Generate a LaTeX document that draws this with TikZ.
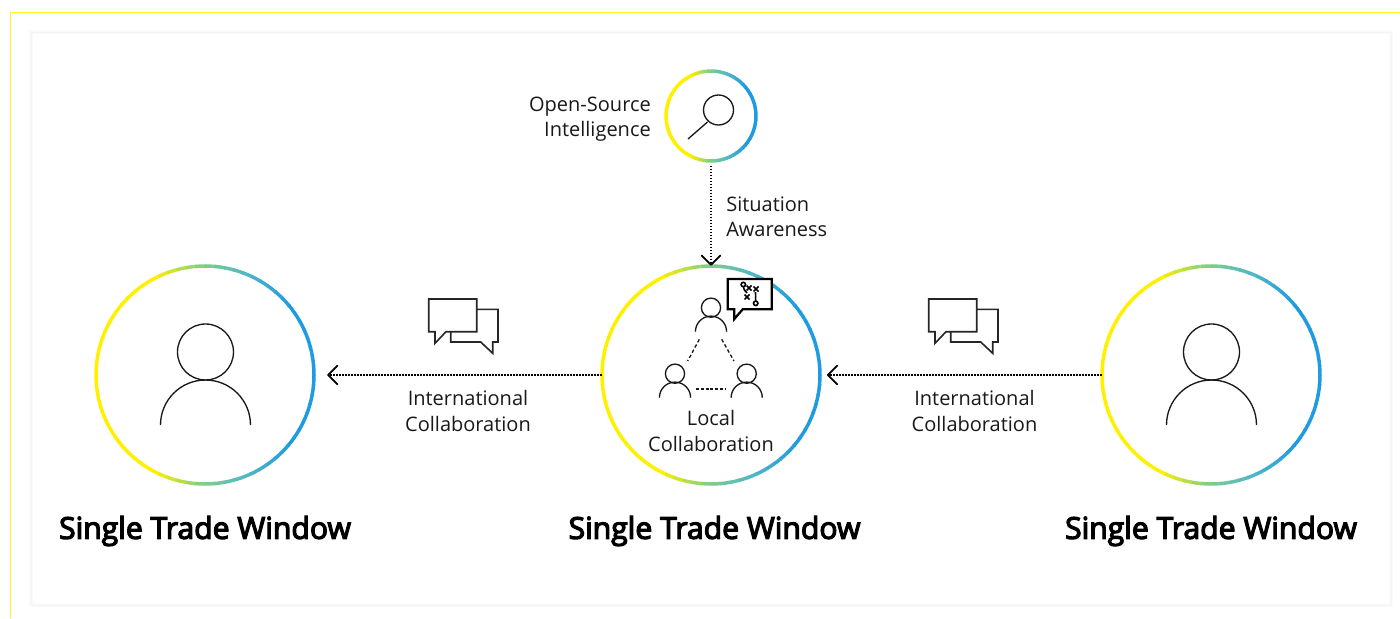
\documentclass[tikz,border=0pt]{standalone}
\usepackage{fontspec}
\setmainfont{Open Sans}
\newfontfamily\semib[FakeBold=4]{Open Sans}
\usetikzlibrary{arrows.meta}
\tikzset{
  declare function={ramp(\u,\a,\b)=max(0,min(1,(\u-\a)/(\b-\a)));},
  hub/.style={circle,minimum size=163.5pt,inner sep=0pt},
  smallhub/.style={circle,minimum size=67.5pt,inner sep=0pt},
  thinicon/.style={line width=1pt,black!90},
  bubble/.style={line width=1.2pt,black!85,fill=white,line join=miter},
  flow/.style={line width=1.1pt,dash pattern=on 1.1pt off 1.15pt,black,
    -{Straight Barb[length=7pt,width=14pt,line width=1.3pt,round]}},
  txt/.style={font=\fontsize{15}{18.9}\selectfont,inner sep=0pt,text=black!90},
  title/.style={font=\semib\fontsize{22.6}{26}\selectfont,inner sep=0pt,text=black}
}
\newcommand\gradring[3]{%
  \foreach \ang in {0,5,...,355}{%
    \pgfmathsetmacro\uu{cos(\ang+2.5)}%
    \pgfmathtruncatemacro\cr{255-125*ramp(\uu,-.45,-.05)-45*ramp(\uu,-.05,.35)-55*ramp(\uu,.35,.8)}%
    \pgfmathtruncatemacro\cg{240-30*ramp(\uu,-.45,-.05)-25*ramp(\uu,-.05,.35)-30*ramp(\uu,.35,.8)}%
    \pgfmathtruncatemacro\cb{130*ramp(\uu,-.45,-.05)+65*ramp(\uu,-.05,.35)+30*ramp(\uu,.35,.8)}%
    \definecolor{segc}{RGB}{\cr,\cg,\cb}%
    \draw[segc,line width=#3,shift={(#1)}] (\ang:#2) arc[start angle=\ang,delta angle=5.6,radius=#2];
  }}
\newcommand\bigperson[1]{%
  \draw[thinicon,shift={(#1)}] (0,-23) circle[radius=28];
  \draw[thinicon,shift={(#1)}] (-45,50) arc[start angle=180,delta angle=180,radius=45];}
\newcommand\smallperson[1]{%
  \draw[thinicon,shift={(#1)}] (0,-24) circle[radius=9.6];
  \draw[thinicon,shift={(#1)}] (-15.6,0) arc[start angle=180,delta angle=180,radius=15.6];}
\newcommand\chaticon[1]{%
  \begin{scope}[shift={(#1,0)}]
    \draw[bubble,fill=none] (476.7,309.3) -- (498,309.3) -- (498,342) -- (492.7,342) -- (492.7,353.3) -- (480.7,342) -- (450.7,342) -- (450.7,331.7);
    \draw[bubble,fill=none] (428.7,299) -- (476.7,299) -- (476.7,331.7) -- (446,331.7) -- (435,343.3) -- (435,331.7) -- (428.7,331.7) -- cycle;
  \end{scope}}
\begin{document}
\begin{tikzpicture}[x=0.75pt,y=-0.75pt]
\useasboundingbox (0,0) rectangle (1400,618);
\fill[white] (0,0) rectangle (1400,618);
% frame
\draw[draw=yellow!85!white,line width=0.8pt] (10.5,618) -- (10.5,12.5) -- (1400,12.5);
\draw[black!2,line width=2.6pt,fill=white] (31,32) rectangle (1391,605);
\draw[black!4,line width=0.6pt] (31,32) rectangle (1391,605);
% hubs
\node[hub] (lefthub) at (205,375) {};
\node[hub] (midhub) at (711,375) {};
\node[hub] (righthub) at (1211,375) {};
\node[smallhub] (osint) at (711,116) {};
\gradring{205,375}{109}{2.6pt}
\gradring{711,375}{109}{2.6pt}
\gradring{1211,375}{109}{2.6pt}
\gradring{711,116}{45}{2.6pt}
% magnifier
\draw[thinicon] (718.5,110) circle[radius=15];
\draw[thinicon] (707.5,122) -- (688,139);
% persons
\bigperson{205.5,375}
\bigperson{1211.5,375}
\smallperson{711,331.7}
\smallperson{675,397.7}
\smallperson{746.7,397.7}
\draw[thinicon,dash pattern=on 2.6pt off 1.8pt] (699.3,339.3) -- (687.7,361);
\draw[thinicon,dash pattern=on 2.6pt off 1.8pt] (721.7,339.3) -- (734,361);
\draw[thinicon,dash pattern=on 2.2pt off 1.4pt] (696,389) -- (726,389);
% tactic bubble
\draw[line width=1.7pt,black,fill=white,line join=miter] (727.7,279) -- (771.7,279) -- (771.7,309.3) -- (742.7,309.3) -- (734.3,319) -- (734.3,309.3) -- (727.7,309.3) -- cycle;
\begin{scope}[line width=1.2pt,black]
  \draw (743.3,284.5) circle[radius=2.2];
  \draw (743.5,287) .. controls (744,291) and (746,291) .. (747,293);
  \draw (755.7,303.3) circle[radius=2.2];
  \draw (755.5,292) -- (755.7,301);
  \draw (746.5,285.5) -- (751.5,290.5) (751.5,285.5) -- (746.5,290.5);
  \draw (753.5,286.5) -- (758.5,291.5) (758.5,286.5) -- (753.5,291.5);
  \draw (744.5,294.5) -- (749.5,299.5) (749.5,294.5) -- (744.5,299.5);
\end{scope}
% chat icons
\chaticon{0}
\chaticon{500}
% connectors
\draw[flow,shorten >=9.7pt] (midhub.west) -- (lefthub.east);
\draw[flow,shorten >=5pt] (righthub.west) -- (midhub.east);
\draw[flow,shorten <=3.5pt] (osint.south) -- (midhub.north);
% labels
\node[txt,align=right,anchor=east] (lab1) at (651,119.5) {Open-Source\\Intelligence};
\node[txt,align=left,anchor=west] (lab2) at (726,217) {Situation\\Awareness};
\node[txt,align=center] (lab3) at (468,411) {International\\Collaboration};
\node[txt,align=center] (lab4) at (974.5,411) {International\\Collaboration};
\node[txt,align=center] (lab5) at (711,431) {Local\\Collaboration};
\node[title] (t1) at (205,531) {Single Trade Window};
\node[title] (t2) at (714.5,531) {Single Trade Window};
\node[title] (t3) at (1211,531) {Single Trade Window};
\end{tikzpicture}
\end{document}
